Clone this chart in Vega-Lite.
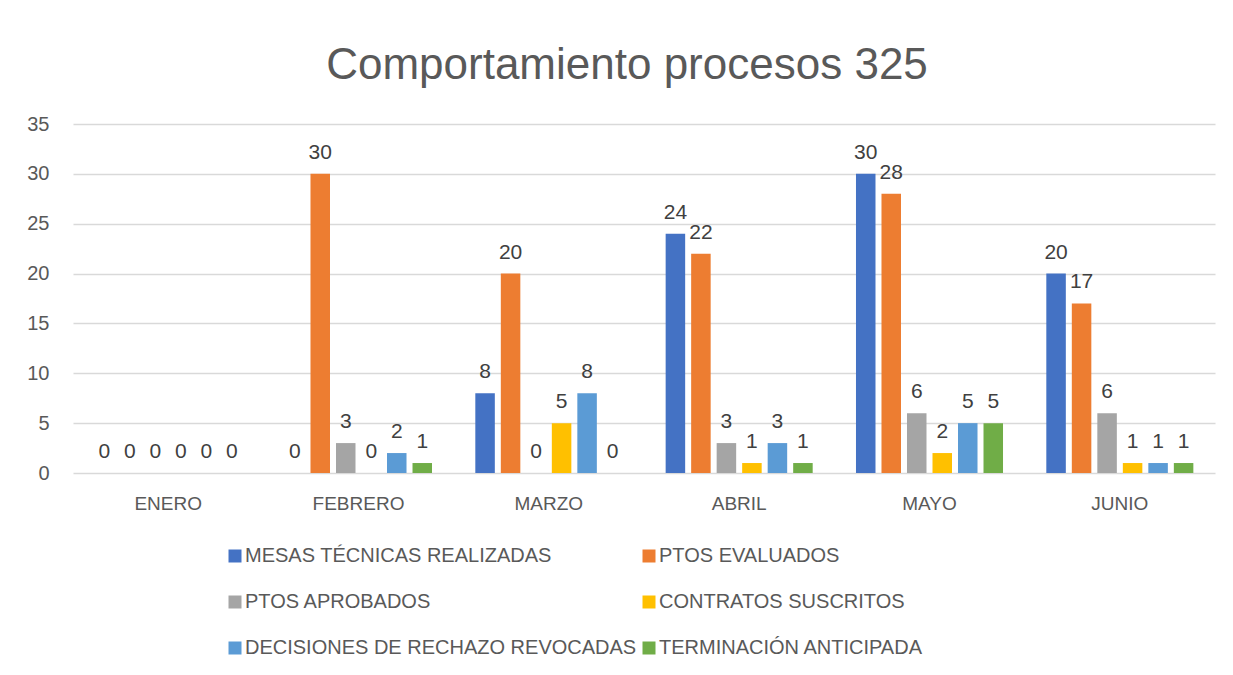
{
  "$schema": "https://vega.github.io/schema/vega-lite/v6.json",
  "width": 1142,
  "height": 349,
  "autosize": {"type": "none"},
  "padding": {"left": 73, "top": 124, "right": 18, "bottom": 202},
  "background": "white",
  "title": {
    "text": "Comportamiento procesos 325",
    "fontSize": 44,
    "font": "Liberation Sans",
    "fontWeight": "normal",
    "color": "#595959",
    "anchor": "middle",
    "dx": -17,
    "offset": 26
  },
  "config": {
    "view": {"stroke": null},
    "font": "Liberation Sans",
    "axis": {"labelFont": "Liberation Sans", "labelColor": "#595959", "labelFontSize": 18},
    "legend": {"labelFont": "Liberation Sans"}
  },
  "data": {
    "values": [
      {"mes": "ENERO", "serie": "MESAS TÉCNICAS REALIZADAS", "valor": 0},
      {"mes": "ENERO", "serie": "PTOS EVALUADOS", "valor": 0},
      {"mes": "ENERO", "serie": "PTOS APROBADOS", "valor": 0},
      {"mes": "ENERO", "serie": "CONTRATOS SUSCRITOS", "valor": 0},
      {"mes": "ENERO", "serie": "DECISIONES DE RECHAZO REVOCADAS", "valor": 0},
      {"mes": "ENERO", "serie": "TERMINACIÓN ANTICIPADA", "valor": 0},
      {"mes": "FEBRERO", "serie": "MESAS TÉCNICAS REALIZADAS", "valor": 0},
      {"mes": "FEBRERO", "serie": "PTOS EVALUADOS", "valor": 30},
      {"mes": "FEBRERO", "serie": "PTOS APROBADOS", "valor": 3},
      {"mes": "FEBRERO", "serie": "CONTRATOS SUSCRITOS", "valor": 0},
      {"mes": "FEBRERO", "serie": "DECISIONES DE RECHAZO REVOCADAS", "valor": 2},
      {"mes": "FEBRERO", "serie": "TERMINACIÓN ANTICIPADA", "valor": 1},
      {"mes": "MARZO", "serie": "MESAS TÉCNICAS REALIZADAS", "valor": 8},
      {"mes": "MARZO", "serie": "PTOS EVALUADOS", "valor": 20},
      {"mes": "MARZO", "serie": "PTOS APROBADOS", "valor": 0},
      {"mes": "MARZO", "serie": "CONTRATOS SUSCRITOS", "valor": 5},
      {"mes": "MARZO", "serie": "DECISIONES DE RECHAZO REVOCADAS", "valor": 8},
      {"mes": "MARZO", "serie": "TERMINACIÓN ANTICIPADA", "valor": 0},
      {"mes": "ABRIL", "serie": "MESAS TÉCNICAS REALIZADAS", "valor": 24},
      {"mes": "ABRIL", "serie": "PTOS EVALUADOS", "valor": 22},
      {"mes": "ABRIL", "serie": "PTOS APROBADOS", "valor": 3},
      {"mes": "ABRIL", "serie": "CONTRATOS SUSCRITOS", "valor": 1},
      {"mes": "ABRIL", "serie": "DECISIONES DE RECHAZO REVOCADAS", "valor": 3},
      {"mes": "ABRIL", "serie": "TERMINACIÓN ANTICIPADA", "valor": 1},
      {"mes": "MAYO", "serie": "MESAS TÉCNICAS REALIZADAS", "valor": 30},
      {"mes": "MAYO", "serie": "PTOS EVALUADOS", "valor": 28},
      {"mes": "MAYO", "serie": "PTOS APROBADOS", "valor": 6},
      {"mes": "MAYO", "serie": "CONTRATOS SUSCRITOS", "valor": 2},
      {"mes": "MAYO", "serie": "DECISIONES DE RECHAZO REVOCADAS", "valor": 5},
      {"mes": "MAYO", "serie": "TERMINACIÓN ANTICIPADA", "valor": 5},
      {"mes": "JUNIO", "serie": "MESAS TÉCNICAS REALIZADAS", "valor": 20},
      {"mes": "JUNIO", "serie": "PTOS EVALUADOS", "valor": 17},
      {"mes": "JUNIO", "serie": "PTOS APROBADOS", "valor": 6},
      {"mes": "JUNIO", "serie": "CONTRATOS SUSCRITOS", "valor": 1},
      {"mes": "JUNIO", "serie": "DECISIONES DE RECHAZO REVOCADAS", "valor": 1},
      {"mes": "JUNIO", "serie": "TERMINACIÓN ANTICIPADA", "valor": 1}
    ]
  },
  "encoding": {
    "x": {
      "field": "mes",
      "type": "nominal",
      "sort": ["ENERO", "FEBRERO", "MARZO", "ABRIL", "MAYO", "JUNIO"],
      "scale": {"paddingInner": 0.196, "paddingOuter": 0.098},
      "axis": {"title": null, "labelAngle": 0, "domain": false, "ticks": false, "labelPadding": 21, "labelFontSize": 19, "grid": false}
    },
    "xOffset": {
      "field": "serie",
      "type": "nominal",
      "sort": ["MESAS TÉCNICAS REALIZADAS", "PTOS EVALUADOS", "PTOS APROBADOS", "CONTRATOS SUSCRITOS", "DECISIONES DE RECHAZO REVOCADAS", "TERMINACIÓN ANTICIPADA"],
      "scale": {"paddingInner": 0.235, "paddingOuter": 0.1175}
    },
    "y": {
      "field": "valor",
      "type": "quantitative",
      "scale": {"domain": [0, 35]},
      "axis": {"title": null, "values": [0, 5, 10, 15, 20, 25, 30, 35], "domain": false, "ticks": false, "labelPadding": 24, "labelFontSize": 20, "gridColor": "#d9d9d9", "gridWidth": 1.5}
    }
  },
  "layer": [
    {
      "mark": {"type": "bar"},
      "encoding": {
        "color": {
          "field": "serie",
          "type": "nominal",
          "scale": {
            "domain": ["MESAS TÉCNICAS REALIZADAS", "PTOS EVALUADOS", "PTOS APROBADOS", "CONTRATOS SUSCRITOS", "DECISIONES DE RECHAZO REVOCADAS", "TERMINACIÓN ANTICIPADA"],
            "range": ["#4472C4", "#ED7D31", "#A5A5A5", "#FFC000", "#5B9BD5", "#70AD47"]
          },
          "legend": {
            "title": null,
            "orient": "none",
            "legendX": 152,
            "legendY": 422,
            "columns": 2,
            "direction": "horizontal",
            "symbolType": "square",
            "symbolSize": 169,
            "symbolStrokeWidth": 0,
            "labelFontSize": 20,
            "labelColor": "#595959",
            "labelLimit": 500,
            "labelOffset": 0,
            "columnPadding": 2,
            "rowPadding": 26
          }
        }
      }
    },
    {
      "mark": {"type": "text", "baseline": "bottom", "dy": -11, "fontSize": 21, "color": "#404040", "font": "Liberation Sans"},
      "encoding": {
        "text": {"field": "valor", "type": "quantitative"}
      }
    }
  ]
}
